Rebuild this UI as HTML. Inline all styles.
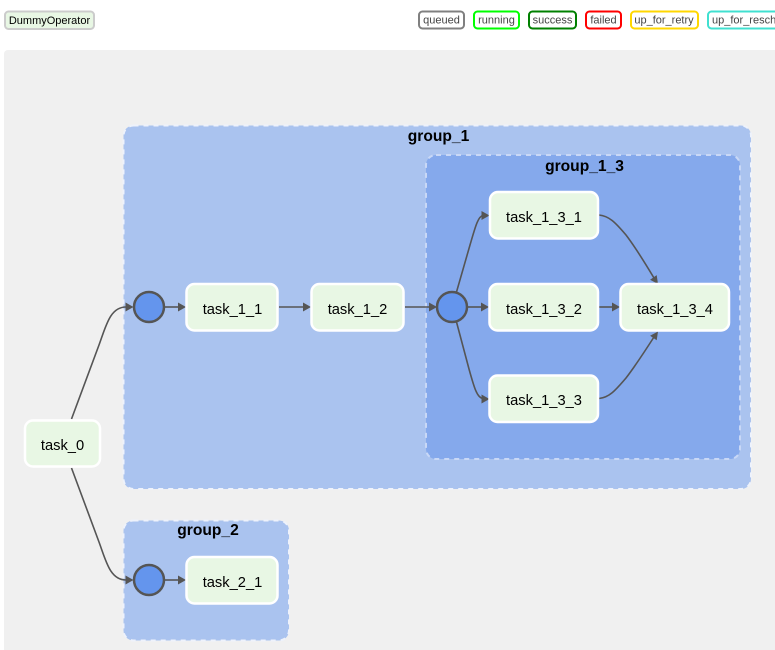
<!DOCTYPE html>
<html><head><meta charset="utf-8"><style>
html,body{margin:0;padding:0;background:#fff;width:775px;height:650px;overflow:hidden}
svg{display:block;font-family:"Liberation Sans",Arial,sans-serif}
.g{stroke:#eef2fb;stroke-width:2;stroke-dasharray:5 5}
.n{fill:#e8f7e4;stroke:#fff;stroke-width:2.5}
.t{font-size:14.7px;text-anchor:middle;fill:#000}
.h{font-size:15.6px;font-weight:bold;text-anchor:middle;fill:#000}
.c{fill:#6495ed;stroke:#555;stroke-width:2.5}
.e{fill:none;stroke:#555;stroke-width:1.6}
.a{fill:#555}
.l{fill:#fff;stroke-width:2}
.lt{font-size:11px;text-anchor:middle;fill:#444}
</style></head><body>
<svg width="775" height="650" viewBox="0 0 775 650" xmlns="http://www.w3.org/2000/svg">
<rect x="5" y="11.500" width="89" height="17.500" rx="3.500" fill="#e8f7e4" stroke="#ccc" stroke-width="2"/>
<text x="49.500" y="24" font-size="11" text-anchor="middle" fill="#000">DummyOperator</text>

<rect class="l" x="419" y="11.500" width="45" height="17" rx="3.500" stroke="#808080"/><text class="lt" x="441.500" y="23.500">queued</text>
<rect class="l" x="474" y="11.500" width="45" height="17" rx="3.500" stroke="#00ff00"/><text class="lt" x="496.500" y="23.500">running</text>
<rect class="l" x="529" y="11.500" width="47" height="17" rx="3.500" stroke="#008000"/><text class="lt" x="552.500" y="23.500">success</text>
<rect class="l" x="586" y="11.500" width="35" height="17" rx="3.500" stroke="#ff0000"/><text class="lt" x="603.500" y="23.500">failed</text>
<rect class="l" x="631" y="11.500" width="67" height="17" rx="3.500" stroke="#ffd700"/><text class="lt" x="664" y="23.500">up_for_retry</text>
<rect class="l" x="708" y="11.500" width="90" height="17" rx="3.500" stroke="#40e0d0"/><text class="lt" x="712" y="23.500" style="text-anchor:start">up_for_reschedule</text>

<rect x="4" y="50" width="790" height="620" rx="4" fill="#f0f0f0"/>

<rect class="g" x="123.500" y="125.500" width="627.500" height="363.500" rx="10" fill="#aac3ef"/>
<text class="h" x="438.500" y="141">group_1</text>
<rect class="g" x="426" y="155" width="314" height="304" rx="10" fill="#85a9ec" style="stroke:#c9d8f6"/>
<text class="h" x="584.500" y="171">group_1_3</text>
<rect class="g" x="123.500" y="520.500" width="165.500" height="120" rx="10" fill="#aac3ef"/>
<text class="h" x="208" y="535">group_2</text>

<path class="e" d="M71.500 419 L99 345 C106 326 110 307 126 307"/>
<path class="a" d="M133.500 307 L125.500 302.500 L125.500 311.500 Z"/>
<path class="e" d="M71.500 468 L99 542 C106 561 110 580 126 580"/>
<path class="a" d="M133.500 580 L125.500 575.500 L125.500 584.500 Z"/>

<path class="e" d="M164 307 H180"/><path class="a" d="M186 307 L178 302.500 L178 311.500 Z"/>
<path class="e" d="M279 307 H305"/><path class="a" d="M311 307 L303 302.500 L303 311.500 Z"/>
<path class="e" d="M405 307 H431"/><path class="a" d="M437 307 L429 302.500 L429 311.500 Z"/>
<path class="e" d="M467.500 307 H483"/><path class="a" d="M489 307 L481 302.500 L481 311.500 Z"/>
<path class="e" d="M599 307 H614"/><path class="a" d="M620 307 L612 302.500 L612 311.500 Z"/>
<path class="e" d="M164 580 H180"/><path class="a" d="M186 580 L178 575.500 L178 584.500 Z"/>

<path class="e" d="M456.500 292 L470 245 C475 228 478 216 483 215.500"/>
<path class="a" d="M489.500 215.500 L481.500 211 L481.500 220 Z"/>
<path class="e" d="M456.500 322 L469 369 C474 387 477 398 483 398.500"/>
<path class="a" d="M489.500 399 L481.500 394.500 L481.500 403.500 Z"/>
<path class="e" d="M599 215 C609 216 615 222 626 235 C636 248 645 263 654 278"/>
<path class="a" d="M658 284 L656.700 275.100 L650.100 279.700 Z"/>
<path class="e" d="M599 398.500 C609 397.500 615 391 626 378 C636 365 645 351 654 337"/>
<path class="a" d="M658 331.500 L650.100 335.700 L656.700 340.300 Z"/>

<circle class="c" cx="149" cy="307" r="15"/>
<circle class="c" cx="452" cy="307" r="15"/>
<circle class="c" cx="149" cy="580" r="15"/>

<rect class="n" x="25" y="420.500" width="75" height="46" rx="8"/><text class="t" x="62.500" y="450">task_0</text>
<rect class="n" x="186.500" y="284" width="91" height="46.500" rx="8"/><text class="t" x="232.500" y="314">task_1_1</text>
<rect class="n" x="311.500" y="284" width="92" height="46.500" rx="8"/><text class="t" x="357.500" y="314">task_1_2</text>
<rect class="n" x="490" y="192" width="108" height="46.500" rx="8"/><text class="t" x="544" y="222">task_1_3_1</text>
<rect class="n" x="489.500" y="284" width="108.500" height="46.500" rx="8"/><text class="t" x="544" y="314">task_1_3_2</text>
<rect class="n" x="489.500" y="375.500" width="108.500" height="46.500" rx="8"/><text class="t" x="544" y="405">task_1_3_3</text>
<rect class="n" x="620.500" y="284" width="108.500" height="46.500" rx="8"/><text class="t" x="675" y="314">task_1_3_4</text>
<rect class="n" x="186.500" y="557" width="91" height="46.500" rx="8"/><text class="t" x="232.500" y="587">task_2_1</text>
</svg>
</body></html>
